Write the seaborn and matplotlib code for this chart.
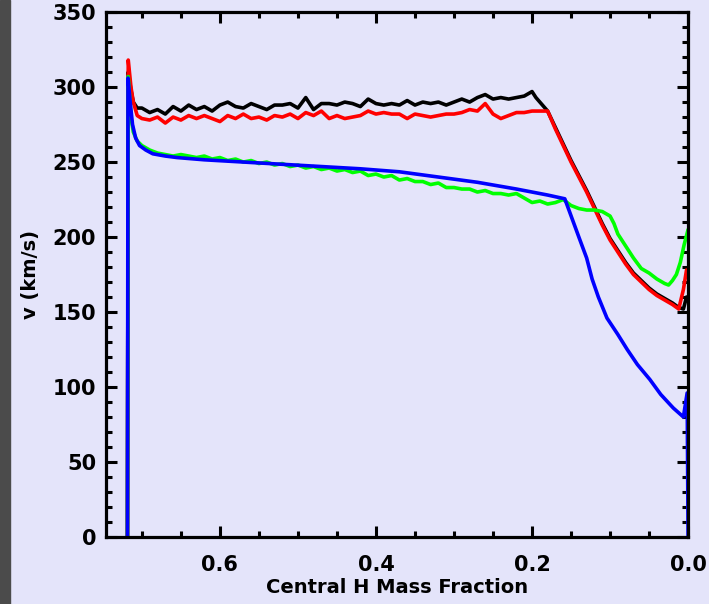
import numpy as np
import pandas as pd
import seaborn as sns
import matplotlib.pyplot as plt
from matplotlib.patches import Rectangle
from matplotlib.ticker import MultipleLocator

# grid of the noisy plateau, 0.70 -> 0.20
x_flat = [0.70, 0.69, 0.68, 0.67, 0.66, 0.65, 0.64, 0.63, 0.62, 0.61,
          0.60, 0.59, 0.58, 0.57, 0.56, 0.55, 0.54, 0.53, 0.52, 0.51,
          0.50, 0.49, 0.48, 0.47, 0.46, 0.45, 0.44, 0.43, 0.42, 0.41,
          0.40, 0.39, 0.38, 0.37, 0.36, 0.35, 0.34, 0.33, 0.32, 0.31,
          0.30, 0.29, 0.28, 0.27, 0.26, 0.25, 0.24, 0.23, 0.22, 0.21, 0.20]

black_flat = [286, 283, 285, 282, 287, 284, 288, 285, 287, 284,
              288, 290, 287, 286, 289, 287, 285, 288, 288, 289,
              286, 293, 285, 289, 289, 288, 290, 289, 287, 292,
              289, 288, 289, 288, 291, 288, 290, 289, 290, 288,
              290, 292, 290, 293, 295, 292, 293, 292, 293, 294, 297]

red_flat = [279, 278, 280, 276, 280, 278, 281, 279, 281, 279,
            277, 281, 279, 282, 279, 280, 278, 281, 280, 282,
            279, 283, 281, 284, 279, 281, 279, 280, 281, 284,
            282, 283, 282, 282, 279, 282, 281, 280, 281, 282,
            282, 283, 285, 284, 289, 282, 279, 281, 283, 283, 284]

green_flat = [261, 258, 256, 255, 254, 255, 254, 253, 254, 252,
              253, 251, 252, 250, 251, 249, 250, 248, 249, 247,
              248, 246, 247, 245, 246, 244, 245, 243, 244, 241,
              242, 240, 241, 238, 239, 237, 237, 235, 236, 233,
              233, 232, 232, 230, 231, 229, 229, 228, 229, 226, 223]

# start spike (shared x)
x_start = [0.7185, 0.7175, 0.714, 0.711, 0.706]
black_start = [0, 310, 298, 290, 286]
red_start = [0, 318, 300, 290, 281]
green_start = [0, 307, 280, 270, 264]

# late phase, 0.195 -> 0.0
x_black_end = [0.195, 0.185, 0.18, 0.17, 0.16, 0.15, 0.14, 0.13, 0.12, 0.11,
               0.10, 0.09, 0.08, 0.07, 0.06, 0.05, 0.04, 0.03, 0.02, 0.012,
               0.006, 0.002]
black_end = [293, 287, 284, 273, 262, 251, 241, 231, 220, 209,
             199, 191, 183, 176, 171, 166, 162, 159, 156, 153,
             152, 160]

x_red_end = [0.19, 0.18, 0.17, 0.16, 0.15, 0.14, 0.13, 0.12, 0.11,
             0.10, 0.09, 0.08, 0.07, 0.06, 0.05, 0.04, 0.03, 0.02, 0.012,
             0.006, 0.002]
red_end = [284, 284, 272, 261, 250, 240, 230, 219, 208,
           198, 190, 182, 175, 170, 165, 161, 158, 155, 152,
           165, 178]

x_green_end = [0.19, 0.18, 0.17, 0.16, 0.15, 0.14, 0.13, 0.12, 0.11, 0.10,
               0.095, 0.09, 0.08, 0.07, 0.06, 0.05, 0.04, 0.03, 0.025, 0.02,
               0.015, 0.01, 0.005, 0.0]
green_end = [224, 222, 223, 225, 221, 219, 218, 218, 217, 214,
             209, 202, 194, 186, 179, 176, 172, 169, 168, 171,
             175, 183, 195, 205]

x_blue = [0.7185, 0.7178, 0.715, 0.712, 0.708, 0.703, 0.695, 0.686, 0.67, 0.655,
          0.62, 0.57, 0.52, 0.47, 0.42, 0.37, 0.32, 0.27, 0.22, 0.18,
          0.158, 0.14, 0.13, 0.123, 0.115, 0.104, 0.09, 0.078, 0.065, 0.049,
          0.035, 0.019, 0.006, 0.0012, 0.0]
blue = [0, 306, 290, 275, 266, 261, 258, 255.5, 254, 253,
        251.5, 250, 248.5, 247, 245.5, 243.5, 240, 236.5, 232, 228,
        225.5, 200, 186, 172, 160, 146, 135, 125, 115, 105,
        95, 86, 80, 96, 0]

series = {
    'black': (x_start + x_flat + x_black_end, black_start + black_flat + black_end),
    'red': (x_start + x_flat + x_red_end, red_start + red_flat + red_end),
    '#00ff00': (x_start + x_flat + x_green_end, green_start + green_flat + green_end),
    '#0000ff': (x_blue, blue),
}

sns.set_style('ticks')
plt.rcParams['font.family'] = ['DejaVu Sans']
plt.rcParams['font.weight'] = 'bold'

bg = '#e4e4fa'
fig = plt.figure(figsize=(7.09, 6.04), dpi=100, facecolor=bg)
ax = fig.add_axes([0.1495, 0.111, 0.821, 0.869])
ax.set_facecolor(bg)
fig.patches.append(Rectangle((0, 0), 10 / 709, 1, transform=fig.transFigure,
                             color='#4b4b4b', zorder=0))

for color, (xs, vs) in series.items():
    df = pd.DataFrame({'x': xs, 'v': vs})
    sns.lineplot(data=df, x='x', y='v', sort=False, estimator=None,
                 color=color, linewidth=2.6, ax=ax)

ax.set_xlim(0.746, 0.0)
ax.set_ylim(0, 350)
ax.xaxis.set_major_locator(MultipleLocator(0.2))
ax.xaxis.set_minor_locator(MultipleLocator(0.05))
ax.yaxis.set_major_locator(MultipleLocator(50))
ax.yaxis.set_minor_locator(MultipleLocator(10))
ax.xaxis.set_major_formatter(plt.FuncFormatter(lambda v, p: f'{v:.1f}'))

for s in ax.spines.values():
    s.set_visible(True)
    s.set_linewidth(2.3)
    s.set_color('black')

ax.tick_params(which='both', direction='in', top=True, right=True,
               width=2.2, color='black', labelcolor='black', labelsize=15)
ax.tick_params(which='major', length=8)
ax.tick_params(which='minor', length=4)
ax.tick_params(axis='x', which='major', pad=13)
ax.tick_params(axis='y', which='major', pad=7)
for lab in ax.get_xticklabels() + ax.get_yticklabels():
    lab.set_fontweight('bold')

ax.set_xlabel('Central H Mass Fraction', fontsize=14, fontweight='bold',
              color='black', labelpad=2)
ax.set_ylabel('v (km/s)', fontsize=14, fontweight='bold', color='black',
              labelpad=9)

plt.savefig('out.png', dpi=100, facecolor=bg)
